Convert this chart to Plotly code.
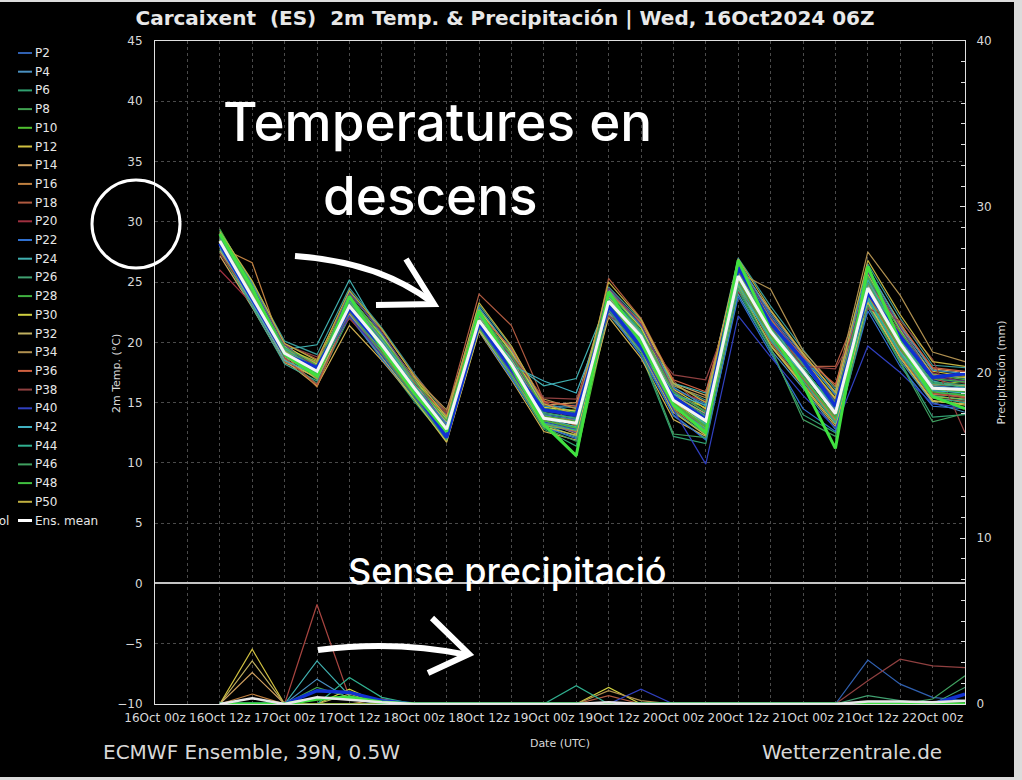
import plotly.graph_objects as go

# ---------------- data ----------------
TIMES = ['2024-10-16 12:00', '2024-10-16 18:00', '2024-10-17 00:00', '2024-10-17 06:00',
         '2024-10-17 12:00', '2024-10-17 18:00', '2024-10-18 00:00', '2024-10-18 06:00',
         '2024-10-18 12:00', '2024-10-18 18:00', '2024-10-19 00:00', '2024-10-19 06:00',
         '2024-10-19 12:00', '2024-10-19 18:00', '2024-10-20 00:00', '2024-10-20 06:00',
         '2024-10-20 12:00', '2024-10-20 18:00', '2024-10-21 00:00', '2024-10-21 06:00',
         '2024-10-21 12:00', '2024-10-21 18:00', '2024-10-22 00:00', '2024-10-22 06:00']

TICK_VALS = ['2024-10-16 00:00', '2024-10-16 12:00', '2024-10-17 00:00', '2024-10-17 12:00',
             '2024-10-18 00:00', '2024-10-18 12:00', '2024-10-19 00:00', '2024-10-19 12:00',
             '2024-10-20 00:00', '2024-10-20 12:00', '2024-10-21 00:00', '2024-10-21 12:00',
             '2024-10-22 00:00']
TICK_TEXT = ['16Oct 00z', '16Oct 12z', '17Oct 00z', '17Oct 12z', '18Oct 00z', '18Oct 12z',
             '19Oct 00z', '19Oct 12z', '20Oct 00z', '20Oct 12z', '21Oct 00z', '21Oct 12z',
             '22Oct 00z']

# 2m temperature (°C), ensemble members
T_P01 = [28.6,24.2,19.4,17.9,23.4,20.1,16.5,13.1,22.2,18.6,14.1,13.8,23.9,21.0,15.8,14.0,26.1,21.6,18.2,14.8,25.2,20.6,16.9,16.7]
T_P02 = [28.1,23.5,18.8,17.2,22.6,19.4,15.8,12.3,21.3,17.6,13.1,12.6,22.8,19.8,14.6,12.8,24.8,20.1,16.9,13.3,23.6,19.1,15.5,15.3]
T_P03 = [29.0,24.6,19.6,17.0,23.9,20.3,16.4,12.5,22.5,18.9,14.6,14.8,24.1,21.3,16.2,14.9,26.6,22.4,18.9,15.6,25.9,21.2,17.4,17.0]
T_P04 = [27.8,23.1,18.6,18.2,22.4,19.0,15.7,13.4,21.0,17.1,13.0,12.1,22.3,19.2,13.9,12.0,24.0,19.4,16.2,12.8,22.9,18.5,15.0,14.2]
T_P05 = [28.9,25.0,20.1,19.0,24.5,21.2,17.4,14.0,23.1,19.6,15.0,14.2,24.6,21.8,16.5,15.2,27.0,23.0,19.4,16.1,26.5,22.0,18.1,17.9]
T_P06 = [28.3,23.6,18.7,16.6,22.1,18.7,15.1,11.9,21.1,17.2,12.8,11.4,22.4,19.0,12.2,11.6,24.3,19.3,14.0,12.5,23.2,18.4,13.8,14.0]
T_P07 = [28.7,24.0,19.2,17.5,23.2,19.9,16.3,12.9,21.9,18.4,13.9,13.5,23.6,20.7,15.4,13.6,25.7,21.2,17.9,14.4,24.9,20.4,16.6,16.4]
T_P08 = [27.5,23.0,18.9,17.8,23.6,20.4,16.8,13.5,22.8,19.1,14.5,13.9,23.8,20.9,15.9,14.3,25.4,21.0,17.2,14.6,24.2,19.6,16.1,15.8]
T_P09 = [29.2,24.4,19.0,16.9,22.8,19.3,15.6,12.0,21.5,17.9,13.4,12.8,23.1,19.9,14.9,13.0,25.9,21.5,18.4,15.2,25.5,21.0,17.3,16.9]
T_P10 = [28.4,23.9,19.3,17.7,23.1,19.7,16.0,12.7,21.6,18.0,13.6,10.5,22.6,20.0,15.0,13.2,25.2,20.5,17.0,13.9,24.4,19.8,15.9,15.6]
T_P11 = [28.0,23.7,19.5,18.4,23.8,20.6,17.0,13.8,22.4,18.8,14.3,14.4,23.5,20.4,15.6,14.6,25.0,20.8,17.6,14.9,23.9,19.4,16.4,16.8]
T_P12 = [28.8,24.8,19.7,17.3,22.9,19.6,15.9,12.2,21.4,17.7,13.5,12.4,23.2,20.2,15.1,13.1,25.8,21.9,18.6,15.4,26.0,21.6,17.6,17.2]
T_P13 = [28.5,24.1,18.5,16.4,21.4,18.5,15.3,11.7,20.9,16.9,12.6,11.9,22.1,18.7,13.6,12.2,24.6,19.7,16.4,13.0,23.4,18.8,15.2,14.8]
T_P14 = [27.2,22.9,18.3,17.1,23.3,20.0,16.6,13.2,22.6,19.4,14.8,15.0,24.4,21.6,16.6,15.6,26.4,22.6,19.0,15.9,25.6,21.3,17.8,17.5]
T_P15 = [29.1,24.5,19.8,18.0,23.7,20.2,16.2,12.6,22.1,18.3,14.0,13.1,23.7,20.6,15.5,13.4,25.5,21.3,17.8,14.2,24.8,20.2,16.3,16.0]
T_P16 = [27.9,26.6,19.0,16.3,22.7,19.5,16.1,13.0,22.0,18.5,13.8,13.6,23.0,20.1,14.7,13.8,25.3,20.6,16.8,13.7,24.0,19.2,15.7,15.5]
T_P17 = [28.2,23.4,18.4,17.4,22.5,19.2,15.5,12.4,21.2,17.4,13.2,12.9,22.9,19.6,14.4,12.6,24.9,20.0,16.6,13.5,23.8,18.9,15.4,15.1]
T_P18 = [28.6,24.3,19.9,18.6,24.0,21.0,17.3,14.2,24.0,21.4,15.2,13.0,25.3,22.0,16.8,14.4,26.2,21.8,18.0,18.0,24.6,20.8,17.0,16.3]
T_P19 = [28.2,23.7,19.2,17.5,23.1,19.9,16.1,12.9,21.7,18.1,13.8,13.2,23.3,20.4,15.3,13.4,25.6,21.0,17.5,14.2,24.4,20.0,16.3,16.0]
T_P20 = [26.0,23.2,19.3,18.1,22.0,19.0,16.4,13.6,21.7,18.7,15.0,14.0,22.7,20.3,16.0,15.1,24.5,21.0,18.3,15.3,23.0,20.4,17.5,16.6]
T_P21 = [28.9,24.6,19.5,17.2,23.5,20.0,16.0,12.4,21.9,18.0,13.3,12.5,23.8,20.8,14.8,12.9,26.3,21.4,17.3,13.6,25.4,20.5,16.0,15.4]
T_P22 = [28.0,23.3,18.8,17.9,22.2,18.6,15.4,12.1,21.0,17.0,13.0,12.0,22.5,18.9,14.0,11.9,23.8,19.1,14.5,12.6,22.6,18.0,14.7,14.5]
T_P23 = [29.3,24.9,19.6,17.6,24.2,20.7,16.7,13.3,22.9,19.3,14.7,14.6,24.3,21.4,16.3,14.7,26.8,22.2,18.7,15.7,26.2,21.4,17.7,17.4]
T_P24 = [28.5,23.6,19.4,19.8,25.2,20.6,16.5,13.7,21.5,18.3,16.4,17.0,23.6,20.9,16.6,15.8,25.1,21.1,18.1,15.0,23.7,19.8,16.8,16.2]
T_P25 = [27.7,23.0,18.2,16.8,22.4,19.1,15.8,12.5,21.3,17.6,13.2,12.2,22.8,19.5,14.3,12.4,24.7,20.2,17.0,13.4,23.5,19.0,15.6,15.2]
T_P26 = [28.8,24.2,19.3,17.4,23.3,20.1,16.4,12.9,22.3,18.7,14.2,13.7,23.9,20.9,15.7,13.9,25.9,21.5,17.9,14.5,25.0,20.4,16.7,16.5]
T_P27 = [28.1,23.9,19.0,17.7,22.9,19.4,15.9,12.6,21.6,17.8,13.6,13.0,23.1,20.0,14.9,13.1,25.0,20.6,17.2,13.8,24.1,19.5,15.8,15.7]
T_P28 = [29.4,24.7,19.2,17.1,23.9,20.4,16.3,12.7,22.4,18.4,13.9,13.4,24.0,20.7,15.2,13.3,26.0,21.3,17.4,14.0,25.3,20.1,16.1,15.9]
T_P29 = [28.2,23.5,18.9,17.6,22.6,19.3,15.7,12.2,21.1,17.5,13.1,12.7,22.9,19.7,14.5,12.9,24.8,20.3,17.1,13.6,23.9,19.3,15.5,15.3]
T_P30 = [28.7,24.4,19.7,18.2,23.6,20.5,16.9,13.6,22.7,19.2,14.6,14.3,24.2,21.2,16.1,14.5,26.4,22.0,18.5,15.3,25.7,21.1,17.3,17.1]
T_P31 = [28.0,23.4,18.6,17.0,22.3,18.8,15.2,11.8,21.0,17.3,13.0,12.3,22.5,19.3,14.2,12.3,24.5,19.8,16.5,13.2,23.3,18.7,15.1,14.9]
T_P32 = [28.6,24.0,19.1,17.8,23.4,20.2,16.6,13.4,22.1,18.6,14.4,14.1,23.7,20.7,15.6,14.1,25.6,21.7,18.3,14.9,24.7,20.3,16.5,16.4]
T_P33 = [27.6,23.3,18.8,17.3,22.8,19.7,16.1,12.8,21.8,18.1,13.8,13.2,23.3,20.3,15.3,13.6,25.3,20.8,17.5,14.3,24.2,19.7,16.2,16.0]
T_P34 = [28.4,24.1,19.4,18.3,23.2,20.3,17.1,14.4,22.2,19.0,15.3,14.5,23.5,20.6,16.4,15.4,25.8,24.4,19.3,16.3,27.5,23.9,19.2,18.4]
T_P35 = [28.9,24.3,19.3,17.0,23.1,19.5,15.6,12.1,21.4,17.6,13.3,12.6,23.2,19.8,14.6,12.7,25.4,20.7,17.0,13.5,24.3,19.6,15.7,15.5]
T_P36 = [28.3,23.7,19.0,17.9,22.9,20.0,16.7,13.9,22.4,19.5,15.1,14.7,24.1,21.7,16.9,15.9,25.9,21.9,18.8,16.5,24.9,21.5,17.9,17.6]
T_P37 = [28.5,23.9,18.7,16.5,22.5,19.2,15.7,12.3,21.6,17.9,13.5,13.0,23.0,19.9,14.8,13.0,25.1,20.4,16.9,13.8,24.0,19.4,15.8,15.4]
T_P38 = [27.4,23.6,19.8,18.8,22.0,19.3,16.6,14.1,21.2,18.9,15.4,15.3,22.2,20.6,17.3,16.9,24.2,21.3,18.0,17.8,22.8,21.8,18.6,12.5]
T_P39 = [28.8,24.6,19.8,17.7,24.1,20.8,16.9,13.0,22.6,18.8,14.3,13.9,24.5,21.5,16.0,14.2,26.5,22.1,18.6,15.1,25.8,21.2,17.1,16.8]
T_P40 = [28.1,23.5,18.9,17.5,22.2,18.9,15.5,12.2,21.3,17.5,13.4,12.8,22.6,19.4,14.4,9.9,22.2,18.8,15.6,12.9,19.7,17.5,14.9,14.6]
T_P41 = [28.6,23.8,19.2,17.8,23.5,20.1,16.5,13.2,22.0,18.3,14.0,13.6,23.5,20.4,15.4,13.7,25.5,21.1,17.7,14.4,24.6,20.0,16.4,16.2]
T_P42 = [28.0,23.2,18.5,17.3,22.7,19.4,15.8,12.4,21.5,18.1,16.8,15.8,22.9,20.2,15.7,14.8,24.4,20.4,17.4,14.7,23.6,19.2,16.0,15.8]
T_P43 = [29.0,24.5,19.5,17.4,23.8,20.3,16.5,12.7,22.3,18.5,13.7,13.0,23.9,20.8,15.3,13.2,26.1,21.6,17.6,14.0,25.2,20.3,16.3,16.1]
T_P44 = [28.4,23.9,19.1,17.6,22.9,19.7,16.0,12.6,21.7,17.9,13.3,12.7,23.0,19.9,14.7,12.8,24.9,20.2,16.8,13.3,23.7,19.1,15.4,15.0]
T_P45 = [28.7,24.2,19.4,17.9,23.3,20.0,16.4,13.0,22.0,18.4,14.1,13.7,23.6,20.6,15.5,13.8,25.7,21.2,17.8,14.6,24.9,20.3,16.6,16.3]
T_P46 = [28.2,23.6,18.9,17.2,22.6,19.1,15.4,11.9,21.2,17.3,12.9,11.8,22.7,19.3,12.4,12.1,24.5,19.6,13.6,12.2,23.1,18.3,13.4,14.1]
T_P47 = [28.9,24.4,19.6,18.1,23.7,20.4,16.8,13.5,22.5,18.9,14.5,14.2,24.2,21.0,15.9,14.2,26.3,21.8,18.2,15.0,25.5,20.9,17.0,16.7]
T_P48 = [28.3,23.7,19.0,17.4,22.8,19.6,15.9,12.5,21.5,17.8,13.5,12.9,23.2,20.1,14.9,13.0,25.2,20.5,17.1,13.7,24.2,19.5,15.9,15.6]
T_P49 = [28.5,24.0,19.3,17.7,23.1,19.9,16.3,12.9,21.9,18.3,13.8,13.4,23.4,20.5,15.2,13.5,25.4,20.9,17.5,14.1,24.5,19.9,16.2,16.0]
T_P50 = [29.2,25.1,19.9,18.5,24.3,21.1,17.2,13.8,23.3,19.7,14.9,14.0,25.0,21.9,16.6,15.0,26.9,22.7,19.1,15.8,26.8,22.3,18.4,18.0]
T_CONTROL = [29.0,24.5,19.0,17.2,23.8,19.5,15.8,12.6,22.6,18.0,13.2,10.6,24.2,20.0,14.8,12.5,26.8,21.0,16.5,11.2,26.3,20.0,15.5,14.5]
T_OPER = [28.2,23.6,19.0,17.9,22.8,19.6,16.0,12.1,21.6,17.8,14.4,14.0,23.0,19.6,15.5,13.6,26.2,21.6,18.5,14.7,24.1,20.5,17.1,17.4]
T_MEAN = [28.4,23.8,19.1,17.6,23.0,19.8,16.2,12.8,21.8,18.2,13.7,13.3,23.4,20.5,15.2,13.5,25.5,20.9,17.6,14.1,24.5,19.9,16.2,16.1]

# precipitation (mm)
R_DRY = [0,0,0,0,0,0,0,0,0,0,0,0,0,0,0,0,0,0,0,0,0,0,0,0]
R_P02 = [0,0,0,0,0,0,0,0,0,0,0,0,0,0,0,0,0,0,0,0,2.65,1.2,0.4,0.2]
R_P04 = [0,0,0,1.5,0.3,0,0,0,0,0,0,0,0,0,0,0,0,0,0,0,0,0,0,0]
R_P08 = [0,0,0,1.0,0.4,0,0,0,0,0,0,0,0,0,0,0,0,0,0,0,0,0,0,0]
R_P12 = [0,3.3,0,0,0,0,0,0,0,0,0,0,0,0,0,0,0,0,0,0,0,0,0,0]
R_P14 = [0,1.9,0,0,0,0.3,0,0,0,0,0,0,0,0,0,0,0,0,0,0,0,0,0,0]
R_P16 = [0,0.6,0,0,0,0,0,0,0,0,0,0,0,0,0,0,0,0,0,0,0,0,0,0]
R_P18 = [0,0,0,0,0,0,0,0,0,0,0,0,0.5,0,0,0,0,0,0,0,0,0,0,0]
R_P19 = [0,0,0,6.0,0.4,0,0,0,0,0,0,0,0,0,0,0,0,0,0,0,0,0,0,0]
R_P24 = [0,0,0,2.6,0.5,0,0,0,0,0,0,0,0,0,0,0,0,0,0,0,0,0,0,0]
R_P26 = [0,0,0,0,0,0,0,0,0,0,0,0,0,0,0,0,0,0,0,0,0.5,0.2,0,1.0]
R_P30 = [0,0,0,0,0.9,0,0,0,0,0,0,0,1.0,0,0,0,0,0,0,0,0,0,0,0]
R_P32 = [0,2.6,0,0,0.6,0,0,0,0,0,0,0,0,0,0,0,0,0,0,0,0,0,0,0]
R_P34 = [0,0,0,0,0,0,0,0,0,0,0,0,0.8,0.2,0,0,0,0,0,0,0,0,0,0]
R_P38 = [0,0,0,0,0,0,0,0,0,0,0,0,0,0,0,0,0,0,0,0,1.4,2.7,2.3,2.2]
R_P40 = [0,0,0,0,0,0,0,0,0,0,0,0,0,0.9,0,0,0,0,0,0,0,0,0,0]
R_P44 = [0,0,0,0,1.6,0.4,0,0,0,0,0,1.1,0,0,0,0,0,0,0,0,0,0,0,0]
R_P46 = [0,0,0,0,0,0,0,0,0,0,0,0,0,0,0,0,0,0,0,0,0,0,0.3,1.7]
R_CONTROL = [0,0,0,0.3,0.4,0.1,0,0,0,0,0,0,0,0,0,0,0,0,0,0,0,0,0,0]
R_OPER = [0,0,0,0.8,0.7,0.2,0,0,0,0,0,0,0,0,0,0,0,0,0,0,0,0,0,0.6]
R_MEAN = [0,0.35,0,0.4,0.25,0.1,0,0,0,0,0,0,0.1,0,0,0,0,0,0,0,0.15,0.15,0.1,0.2]

MEMBER_COLORS = ['#2a4ea8', '#3060b0', '#3a78b8', '#4a90c0', '#3a9a98', '#30a070', '#38a060',
                 '#40a050', '#48b040', '#50c030', '#90c038', '#d0c040', '#d0b050', '#d0a060',
                 '#c89050', '#c08040', '#b86c40', '#b05a40', '#a84540', '#a03040', '#6850a0',
                 '#3070d0', '#3890c0', '#40b0b0', '#40a890', '#40a070', '#40a858', '#40b040',
                 '#88c040', '#d0d040', '#c8c050', '#c0b060', '#b8a058', '#b09050', '#c07848',
                 '#d06040', '#b05040', '#904040', '#604080', '#3040c0', '#3878c0', '#40b0c0',
                 '#38b0a8', '#30b090', '#38a878', '#40a060', '#40b050', '#40c040', '#80b840',
                 '#c0b040']

MEMBERS_T = [T_P01, T_P02, T_P03, T_P04, T_P05, T_P06, T_P07, T_P08, T_P09, T_P10,
             T_P11, T_P12, T_P13, T_P14, T_P15, T_P16, T_P17, T_P18, T_P19, T_P20,
             T_P21, T_P22, T_P23, T_P24, T_P25, T_P26, T_P27, T_P28, T_P29, T_P30,
             T_P31, T_P32, T_P33, T_P34, T_P35, T_P36, T_P37, T_P38, T_P39, T_P40,
             T_P41, T_P42, T_P43, T_P44, T_P45, T_P46, T_P47, T_P48, T_P49, T_P50]
WET = {2: R_P02, 4: R_P04, 8: R_P08, 12: R_P12, 14: R_P14, 16: R_P16, 18: R_P18, 19: R_P19,
       24: R_P24, 26: R_P26, 30: R_P30, 32: R_P32, 34: R_P34, 38: R_P38, 40: R_P40,
       44: R_P44, 46: R_P46}

# ---------------- geometry helpers (layout only) ----------------
L, R, T, B = 155, 965, 41, 704
W, H = 1022, 780
def px(x):
    return (x - L) / (R - L)
def py(y):
    return (B - y) / (B - T)

fig = go.Figure()

# precipitation (right axis)
for i in range(50):
    n = i + 1
    fig.add_trace(go.Scatter(x=TIMES, y=WET.get(n, R_DRY), mode='lines', yaxis='y2',
                             line=dict(color=MEMBER_COLORS[i], width=1.2),
                             name='P%d' % n, showlegend=False, hoverinfo='skip'))
fig.add_trace(go.Scatter(x=TIMES, y=R_OPER, mode='lines', yaxis='y2',
                         line=dict(color='#1030d0', width=3.5), showlegend=False, hoverinfo='skip'))
fig.add_trace(go.Scatter(x=TIMES, y=R_CONTROL, mode='lines', yaxis='y2',
                         line=dict(color='#40e040', width=3.5), showlegend=False, hoverinfo='skip'))
fig.add_trace(go.Scatter(x=TIMES, y=R_MEAN, mode='lines', yaxis='y2',
                         line=dict(color='#e8e8e8', width=2.5), showlegend=False, hoverinfo='skip'))

# temperature (left axis)
for i, vals in enumerate(MEMBERS_T):
    fig.add_trace(go.Scatter(x=TIMES, y=vals, mode='lines',
                             line=dict(color=MEMBER_COLORS[i], width=1.2),
                             name='P%d' % (i + 1), showlegend=False, hoverinfo='skip'))
fig.add_trace(go.Scatter(x=TIMES, y=T_OPER, mode='lines', line=dict(color='#1030d0', width=3.5),
                         showlegend=False, hoverinfo='skip'))
fig.add_trace(go.Scatter(x=TIMES, y=T_CONTROL, mode='lines', line=dict(color='#40e040', width=3),
                         showlegend=False, hoverinfo='skip'))
fig.add_trace(go.Scatter(x=TIMES, y=T_MEAN, mode='lines', line=dict(color='#f4f4f4', width=3),
                         showlegend=False, hoverinfo='skip'))

FONT = 'DejaVu Sans'
GRID = '#4a4a4a'
TXT = '#d8d8d8'

annotations = []
shapes = []

# manual legend (second column of the original legend)
for k in range(25):
    n = 2 * (k + 1)
    yy = 53 + k * 18.7
    shapes.append(dict(type='line', xref='paper', yref='paper', x0=px(18), x1=px(32),
                       y0=py(yy), y1=py(yy), line=dict(color=MEMBER_COLORS[n - 1], width=2)))
    annotations.append(dict(text='P%d' % n, xref='paper', yref='paper', x=px(33), y=py(yy),
                            xanchor='left', yanchor='middle', showarrow=False,
                            font=dict(family=FONT, size=12, color='#e6e6e6')))
yy = 53 + 25 * 18.7
shapes.append(dict(type='line', xref='paper', yref='paper', x0=px(18), x1=px(32),
                   y0=py(yy), y1=py(yy), line=dict(color='#ffffff', width=3)))
annotations.append(dict(text='Ens. mean', xref='paper', yref='paper', x=px(33), y=py(yy),
                        xanchor='left', yanchor='middle', showarrow=False,
                        font=dict(family=FONT, size=12, color='#e6e6e6')))
annotations.append(dict(text='Control', xref='paper', yref='paper', x=px(11), y=py(yy),
                        xanchor='right', yanchor='middle', showarrow=False,
                        font=dict(family=FONT, size=12, color='#e6e6e6')))

# left axis title
annotations.append(dict(text='2m Temp. (°C)', xref='paper', yref='paper', x=px(116), y=py(374),
                        xanchor='center', yanchor='middle', showarrow=False, textangle=-90,
                        font=dict(family=FONT, size=11, color=TXT)))

# footer
annotations.append(dict(text='ECMWF Ensemble, 39N, 0.5W', xref='paper', yref='paper',
                        x=px(101), y=py(752), xanchor='left', yanchor='middle', showarrow=False,
                        font=dict(family=FONT, size=20, color=TXT)))
annotations.append(dict(text='Wetterzentrale.de', xref='paper', yref='paper',
                        x=px(944), y=py(752), xanchor='right', yanchor='middle', showarrow=False,
                        font=dict(family=FONT, size=20, color=TXT)))

# overlay texts
BIG = 'Inter'
annotations.append(dict(text='Temperatures en', xref='paper', yref='paper', x=px(437), y=py(122),
                        xanchor='center', yanchor='middle', showarrow=False,
                        font=dict(family=BIG, size=53, color='#ffffff', weight=500)))
annotations.append(dict(text='descens', xref='paper', yref='paper', x=px(430), y=py(196),
                        xanchor='center', yanchor='middle', showarrow=False,
                        font=dict(family=BIG, size=53, color='#ffffff', weight=500)))
annotations.append(dict(text='Sense precipitació', xref='paper', yref='paper', x=px(507), y=py(571),
                        xanchor='center', yanchor='middle', showarrow=False,
                        font=dict(family=BIG, size=36, color='#ffffff', weight=500)))

def path(cmds):
    out = []
    for c in cmds:
        if isinstance(c, str):
            out.append(c)
        else:
            out.append('%.5f,%.5f' % (px(c[0]), py(c[1])))
    return ' '.join(out)

WHITE = dict(color='#ffffff', width=6)
shapes.append(dict(type='path', xref='paper', yref='paper', line=WHITE,
                   path=path(['M', (295, 256), 'Q', (380, 262), (433, 303)])))
shapes.append(dict(type='path', xref='paper', yref='paper', line=WHITE,
                   path=path(['M', (406, 259), 'L', (434, 304), 'L', (376, 305)])))
shapes.append(dict(type='path', xref='paper', yref='paper', line=WHITE,
                   path=path(['M', (318, 650), 'Q', (395, 640), (468, 655)])))
shapes.append(dict(type='path', xref='paper', yref='paper', line=WHITE,
                   path=path(['M', (432, 618), 'L', (469, 654), 'L', (428, 673)])))
# circle around the 30 label
shapes.append(dict(type='circle', xref='paper', yref='paper', x0=px(92), x1=px(180),
                   y0=py(180), y1=py(268), line=dict(color='#ffffff', width=3)))

# light border strips of the screenshot
shapes.append(dict(type='rect', xref='paper', yref='paper', x0=px(-2), x1=px(W + 2),
                   y0=py(-2), y1=py(2), fillcolor='#dcdcdc', line=dict(width=0)))
shapes.append(dict(type='rect', xref='paper', yref='paper', x0=px(1014), x1=px(W + 2),
                   y0=py(H + 2), y1=py(-2), fillcolor='#dcdcdc', line=dict(width=0)))
shapes.append(dict(type='rect', xref='paper', yref='paper', x0=px(-2), x1=px(W + 2),
                   y0=py(H + 2), y1=py(777), fillcolor='#dcdcdc', line=dict(width=0)))

fig.update_layout(
    width=W, height=H,
    margin=dict(l=L, r=W - R, t=T, b=H - B, pad=0),
    paper_bgcolor='#000000', plot_bgcolor='#000000',
    showlegend=False,
    title=dict(text='Carcaixent\u00a0\u00a0(ES)\u00a0\u00a02m Temp. &amp; Precipitación | Wed, 16Oct2024 06Z',
               x=505 / W, xref='container', xanchor='center',
               y=1 - 18 / H, yanchor='middle',
               font=dict(family=FONT, size=20, color='#e8e8e8', weight='bold')),
    xaxis=dict(type='date', range=['2024-10-16 00:00', '2024-10-22 06:00'],
               tickmode='array', tickvals=TICK_VALS, ticktext=TICK_TEXT, tickangle=0,
               tickfont=dict(family=FONT, size=12, color=TXT), ticklabelstandoff=3,
               showgrid=True, gridcolor=GRID, griddash='dot', gridwidth=1,
               minor=dict(tick0='2024-10-16', dtick=21600000, showgrid=True,
                          gridcolor=GRID, griddash='dot', gridwidth=1),
               showline=True, linecolor='#e0e0e0', linewidth=1, mirror=True,
               ticks='', zeroline=False,
               title=dict(text='Date (UTC)', font=dict(family=FONT, size=11, color=TXT), standoff=14)),
    yaxis=dict(range=[-10, 45], dtick=5, tick0=0,
               tickfont=dict(family=FONT, size=12, color=TXT),
               showgrid=True, gridcolor=GRID, griddash='dot', gridwidth=1,
               zeroline=True, zerolinecolor='#c4c4c4', zerolinewidth=2,
               showline=True, linecolor='#e0e0e0', linewidth=1, mirror=True,
               ticks='', ticklabelstandoff=9),
    yaxis2=dict(range=[0, 40], dtick=10, tick0=0, overlaying='y', side='right',
                tickfont=dict(family=FONT, size=12, color=TXT),
                showgrid=False, zeroline=False,
                showline=True, linecolor='#e0e0e0', linewidth=1,
                ticks='inside', ticklen=5, tickcolor='#e0e0e0', ticklabelstandoff=8,
                minor=dict(dtick=1.25, ticks='inside', ticklen=4, tickcolor='#e0e0e0'),
                title=dict(text='Precipitación (mm)', font=dict(family=FONT, size=11, color=TXT), standoff=6)),
    annotations=annotations,
    shapes=shapes,
)

fig.write_html('out.html', config={'displayModeBar': False},
               post_script="document.body.style.margin='0px';document.body.style.overflow='hidden';")
